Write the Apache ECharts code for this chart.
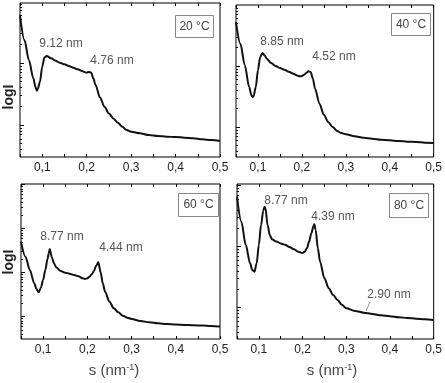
<!DOCTYPE html>
<html>
<head>
<meta charset="utf-8">
<script src="https://cdn.jsdelivr.net/npm/echarts@6.0.0/dist/echarts.min.js"></script>
<style>
html, body { margin: 0; padding: 0; background: #fff; }
#main { width: 445px; height: 383px; }
</style>
</head>
<body>
<div id="main"></div>
<script>
var xTicks = [0.1, 0.2, 0.3, 0.4, 0.5];
var temps = ['20 °C', '40 °C', '60 °C', '80 °C'];

var s20 = [0.05, 0.06, 0.07, 0.08, 0.085, 0.088, 0.09, 0.095, 0.10, 0.105, 0.11, 0.12, 0.13, 0.14, 0.15, 0.16, 0.17, 0.18, 0.19, 0.195, 0.20, 0.205, 0.21, 0.215, 0.22, 0.23, 0.24, 0.25, 0.26, 0.27, 0.28, 0.29, 0.30, 0.32, 0.34, 0.36, 0.38, 0.40, 0.42, 0.44, 0.46, 0.48, 0.50];
var i20 = [594, 235, 112, 56.6, 40.5, 35.8, 38.5, 50.0, 87.3, 123, 130, 119, 109, 101, 95.1, 89.5, 84.1, 79.0, 74.3, 71.6, 70.0, 71.8, 70.5, 56.6, 44.2, 27.9, 19.8, 15.4, 12.8, 10.9, 9.40, 8.30, 7.81, 7.34, 6.90, 6.65, 6.48, 6.40, 6.25, 6.10, 5.87, 5.73, 5.52];

var s40 = [0.05, 0.06, 0.07, 0.08, 0.085, 0.088, 0.09, 0.095, 0.10, 0.105, 0.11, 0.115, 0.12, 0.13, 0.14, 0.15, 0.16, 0.17, 0.18, 0.19, 0.195, 0.20, 0.205, 0.21, 0.215, 0.22, 0.225, 0.23, 0.24, 0.25, 0.26, 0.27, 0.28, 0.29, 0.30, 0.32, 0.34, 0.36, 0.38, 0.40, 0.42, 0.44, 0.46, 0.48, 0.50];
var i40 = [526, 232, 103, 45.3, 33.0, 31.0, 31.8, 45.3, 84.9, 140, 163, 150, 132, 112, 100, 92.7, 87.1, 80.7, 74.9, 69.5, 67.7, 68.5, 72.1, 76.8, 81.8, 79.8, 62.0, 42.5, 24.1, 15.9, 12.1, 10.0, 8.60, 7.97, 7.58, 7.03, 6.68, 6.44, 6.20, 6.04, 5.89, 5.75, 5.68, 5.53, 5.46];

var s60 = [0.05, 0.06, 0.07, 0.08, 0.085, 0.09, 0.095, 0.10, 0.105, 0.11, 0.113, 0.115, 0.12, 0.125, 0.13, 0.14, 0.15, 0.16, 0.17, 0.18, 0.19, 0.195, 0.20, 0.205, 0.21, 0.215, 0.22, 0.225, 0.23, 0.235, 0.24, 0.25, 0.26, 0.27, 0.28, 0.29, 0.30, 0.32, 0.34, 0.36, 0.38, 0.40, 0.42, 0.44, 0.46, 0.48, 0.50];
var i60 = [507, 231, 115, 57.2, 42.6, 35.7, 45.6, 68.1, 115, 205, 285, 345, 219, 160, 130, 109, 100, 94.9, 88.5, 82.6, 74.3, 71.8, 74.3, 81.1, 91.6, 109, 144, 172, 102, 57.2, 37.0, 21.9, 15.5, 12.5, 10.5, 9.49, 8.85, 7.97, 7.43, 7.05, 6.81, 6.58, 6.47, 6.35, 6.25, 6.14, 5.93];

var s80 = [0.05, 0.06, 0.07, 0.08, 0.085, 0.09, 0.095, 0.10, 0.105, 0.11, 0.113, 0.115, 0.12, 0.125, 0.13, 0.14, 0.15, 0.16, 0.17, 0.18, 0.19, 0.20, 0.205, 0.21, 0.215, 0.22, 0.225, 0.227, 0.23, 0.235, 0.24, 0.25, 0.26, 0.27, 0.28, 0.29, 0.30, 0.32, 0.34, 0.36, 0.38, 0.40, 0.42, 0.44, 0.46, 0.48, 0.50];
var i80 = [661, 257, 107, 53.3, 41.4, 38.9, 53.3, 107, 226, 384, 453, 436, 226, 155, 132, 121, 113, 107, 98.8, 90.4, 82.8, 78.7, 82.8, 93.9, 121, 165, 218, 232, 188, 93.9, 56.8, 30.3, 20.7, 16.1, 13.4, 11.1, 9.75, 8.82, 8.28, 7.87, 7.48, 7.21, 6.95, 6.77, 6.60, 6.44, 6.28];

var notes20 = ['9.12 nm', '4.76 nm'];
var notes40 = ['8.85 nm', '4.52 nm'];
var notes60 = ['8.77 nm', '4.44 nm'];
var notes80 = ['8.77 nm', '4.39 nm', '2.90 nm'];

// layout of the 2x2 panels
var panels = [
    {s: s20, v: i20, t: temps[0], notes: notes20, grid: {left: 20, top: 3, width: 200, height: 154}, yMin: 3.05, yMax: 929,
     box: [175.5, 15.5, 38, 22], notePos: [[61, 44], [112, 61]]},
    {s: s40, v: i40, t: temps[1], notes: notes40, grid: {left: 236, top: 5, width: 199, height: 152}, yMin: 3.22, yMax: 1000,
     box: [391.5, 13.5, 39, 22], notePos: [[282, 42], [334, 57]]},
    {s: s60, v: i60, t: temps[2], notes: notes60, grid: {left: 21, top: 184, width: 199, height: 155}, yMin: 3.10, yMax: 10350,
     box: [178.5, 193.5, 40, 23], notePos: [[62, 237], [121, 248]]},
    {s: s80, v: i80, t: temps[3], notes: notes80, grid: {left: 237, top: 184, width: 200, height: 155}, yMin: 3.06, yMax: 1065,
     box: [389.5, 193.5, 39, 24], notePos: [[286, 201], [333, 217], [389, 295]]}
];

function logTicks(min, max, ks) {
    var out = [];
    for (var e = 0; e < 6; e++) {
        for (var j = 0; j < ks.length; j++) {
            var v = ks[j] * Math.pow(10, e);
            if (v > min && v < max) out.push(v);
        }
    }
    return out;
}

function fmt(v) {
    return v.toFixed(1).replace('.', ',');
}

var chart = echarts.init(document.getElementById('main'), null, {renderer: 'canvas'});

var grids = [], xAxes = [], yAxes = [], series = [], graphics = [];
var font = '"Liberation Sans", Arial, sans-serif';

panels.forEach(function (p, n) {
    grids.push(Object.assign({show: true, borderColor: '#000', borderWidth: 1, backgroundColor: 'transparent'}, p.grid));
    xAxes.push({
        type: 'value', gridIndex: n, min: 0.05, max: 0.5, interval: 0.05,
        axisLine: {show: false},
        axisTick: {inside: true, length: 3, lineStyle: {color: '#000'}},
        axisLabel: {customValues: xTicks, formatter: fmt, color: '#222', fontSize: 12, fontFamily: font, margin: 5},
        splitLine: {show: false}
    });
    xAxes.push({
        type: 'value', gridIndex: n, position: 'top', min: 0.05, max: 0.5, interval: 0.05,
        axisLine: {show: false},
        axisTick: {inside: true, length: 3, lineStyle: {color: '#000'}},
        axisLabel: {show: false},
        splitLine: {show: false}
    });
    yAxes.push({
        type: 'log', gridIndex: n, position: 'left', min: p.yMin, max: p.yMax,
        axisLine: {show: false},
        axisTick: {inside: true, length: 4, customValues: logTicks(p.yMin, p.yMax, [1]), lineStyle: {color: '#000'}},
        axisLabel: {show: false},
        splitLine: {show: false}
    });
    yAxes.push({
        type: 'log', gridIndex: n, position: 'left', offset: 0, min: p.yMin, max: p.yMax,
        axisLine: {show: false},
        axisTick: {inside: true, length: 2, customValues: logTicks(p.yMin, p.yMax, [2, 3, 4, 5, 6, 7, 8, 9]), lineStyle: {color: '#000'}},
        axisLabel: {show: false},
        splitLine: {show: false}
    });
    series.push({
        type: 'line', xAxisIndex: n * 2, yAxisIndex: n * 2,
        showSymbol: false, smooth: 0.3, smoothMonotone: 'x',
        lineStyle: {color: '#111', width: 2},
        data: p.s.map(function (x, i) { return [x, p.v[i]]; })
    });
    graphics.push({
        type: 'rect', shape: {x: p.box[0], y: p.box[1], width: p.box[2], height: p.box[3]},
        style: {fill: '#fff', stroke: '#888', lineWidth: 1}, z: 100
    });
    graphics.push({
        type: 'text', x: p.box[0] + p.box[2] / 2, y: p.box[1] + p.box[3] / 2, z: 101,
        style: {text: p.t, fill: '#444', font: '12px ' + font, textAlign: 'center', textVerticalAlign: 'middle'}
    });
    p.notes.forEach(function (txt, k) {
        graphics.push({
            type: 'text', x: p.notePos[k][0], y: p.notePos[k][1], z: 101,
            style: {text: txt, fill: '#555', font: '12px ' + font, textAlign: 'center', textVerticalAlign: 'middle'}
        });
    });
});

// leader for 2.90 nm
graphics.push({type: 'line', shape: {x1: 370, y1: 302, x2: 366, y2: 311}, style: {stroke: '#777', lineWidth: 0.8}, z: 101});

[97, 262].forEach(function (y) {
    graphics.push({
        type: 'text', x: 9, y: y, rotation: Math.PI / 2, z: 101,
        style: {text: 'logI', fill: '#222', font: 'bold 14px ' + font, textAlign: 'center', textVerticalAlign: 'middle'}
    });
});
[114, 332].forEach(function (x) {
    graphics.push({
        type: 'text', x: x, y: 371, z: 101,
        style: {
            text: 's (nm{sup|-1})', fill: '#444', font: '15px ' + font, textAlign: 'center', textVerticalAlign: 'middle',
            rich: {sup: {fontSize: 9, fill: '#444', fontFamily: font, verticalAlign: 'top', lineHeight: 9}}
        }
    });
});

chart.setOption({
    animation: false,
    backgroundColor: '#fff',
    grid: grids,
    xAxis: xAxes,
    yAxis: yAxes,
    series: series,
    graphic: graphics
});
</script>
</body>
</html>
